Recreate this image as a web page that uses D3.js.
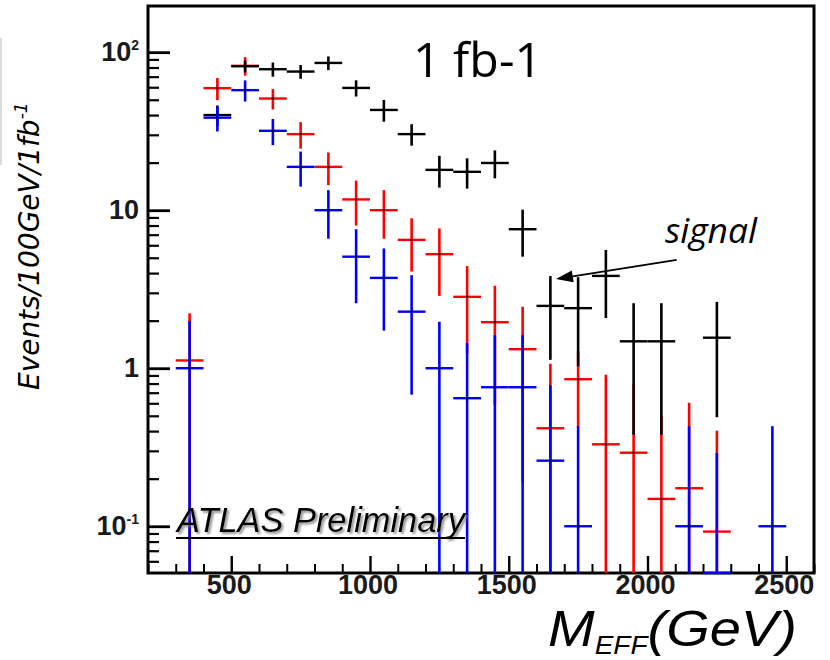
<!DOCTYPE html>
<html>
<head>
<meta charset="utf-8">
<script src="https://cdn.jsdelivr.net/npm/d3@7/dist/d3.min.js"></script>
<style>
  html, body { margin: 0; padding: 0; background: #fff; }
  svg { display: block; }
</style>
</head>
<body>
<script>
// M_EFF bins (GeV), 100 GeV wide
const binCenters = [350, 450, 550, 650, 750, 850, 950, 1050, 1150, 1250, 1350,
                    1450, 1550, 1650, 1750, 1850, 1950, 2050, 2150, 2250, 2350, 2450];
const binWidth = 100;

// Black: total (signal + background)
const blackValues = [null, 40, 81.5, 78, 75.4, 85.5, 59.4, 43.1, 30.3, 18.0, 17.5,
                     19.9, 7.58, 2.48, 2.40, 3.84, 1.48, 1.48, null, 1.56, null, null];
const blackErrors = [null, 6, 7, 8, 7.5, 8.5, 7, 6.8, 4.7, 4.1, 3.8,
                     4, 2.5, 1.35, 1.37, 1.76, 1.1, 1.1, null, 1.07, null, null];

// Red background
const redValues = [1.12, 59.2, 82, 50.9, 30.3, 18.8, 11.7, 10.0, 6.49, 5.27, 2.83,
                   1.955, 1.32, 0.417, 0.852, 0.330, 0.292, 0.149, 0.174, 0.0925, null, null];
const redErrors = [1.11, 9.5, 11, 7.5, 5.8, 4.4, 3.7, 3.4, 2.4, 2.4, 1.6,
                   1.37, 1.13, 0.65, 0.43, 0.58, 0.5, 0.35, 0.43, 0.31, null, null];

// Blue background
const blueValues = [1.0, 38.5, 57.5, 31.8, 18.8, 10.0, 5.08, 3.73, 2.28, 1.0, 0.646,
                    0.758, 0.758, 0.26, 0.1, null, null, null, 0.1, 0.04, null, 0.1];
const blueErrors = [0.99, 7, 8.8, 6, 4.7, 3.4, 2.5, 2.0, 1.6, 0.97, 0.8,
                    0.86, 0.86, 0.52, 0.33, null, null, null, 0.33, 0.25, null, 0.33];

// Axis ticks
const xMajorTicks = [500, 1000, 1500, 2000, 2500];
const yMajorTicks = [0.1, 1, 10, 100];
const yTickLabels = [["10", "-1"], ["1", ""], ["10", ""], ["10", "2"]];

const W = 830, H = 660;
const frame = { left: 148, right: 814, top: 6, bottom: 573 };

const svg = d3.select("body").append("svg")
  .attr("width", W).attr("height", H)
  .attr("viewBox", `0 0 ${W} ${H}`);

const defs = svg.append("defs");
const shadow = defs.append("filter").attr("id", "soft-shadow")
  .attr("x", "-5%").attr("y", "-20%").attr("width", "115%").attr("height", "150%");
shadow.append("feDropShadow").attr("dx", 2).attr("dy", 2)
  .attr("stdDeviation", 1.2).attr("flood-color", "#777").attr("flood-opacity", 0.8);

svg.append("rect").attr("width", W).attr("height", H).attr("fill", "#fff");

// faint rule at the far left edge
svg.append("line").attr("x1", 1).attr("x2", 1).attr("y1", 38).attr("y2", 165)
  .attr("stroke", "#dcdcdc").attr("stroke-width", 2);

const x = d3.scaleLinear().domain([200, 2600]).range([frame.left, frame.right]);
const y = d3.scaleLog().domain([0.0506, 196]).range([frame.bottom, frame.top]).clamp(true);

// Frame
svg.append("rect")
  .attr("x", frame.left).attr("y", frame.top)
  .attr("width", frame.right - frame.left).attr("height", frame.bottom - frame.top)
  .attr("fill", "none").attr("stroke", "#000").attr("stroke-width", 3);

// X axis ticks (inward)
const xMinor = d3.range(200, 2601, 100).filter(v => !xMajorTicks.includes(v));
const xAxisMinor = d3.axisBottom(x).tickValues(xMinor).tickSizeInner(-9).tickSizeOuter(0).tickFormat("");
const xAxisMajor = d3.axisBottom(x).tickValues(xMajorTicks).tickSizeInner(-17).tickSizeOuter(0).tickFormat("");
[xAxisMinor, xAxisMajor].forEach((ax, i) => {
  const g = svg.append("g").attr("transform", `translate(0,${frame.bottom})`).call(ax);
  g.select(".domain").remove();
  g.selectAll(".tick line").attr("stroke", "#000").attr("stroke-width", i ? 2.4 : 2);
});
svg.append("g").selectAll("text").data(xMajorTicks).join("text")
  .attr("x", d => x(d) - 2).attr("y", 594)
  .attr("text-anchor", "middle")
  .attr("font-family", "Liberation Sans, Arial, sans-serif")
  .attr("font-weight", "bold").attr("font-size", 27).attr("fill", "#1a1a1a")
  .text(d => d);

// Y axis ticks (inward)
const yMinor = [];
[0.01, 0.1, 1, 10, 100].forEach(dec => {
  for (let k = 2; k <= 9; k++) {
    const v = k * dec;
    if (v > y.domain()[0] && v < y.domain()[1]) yMinor.push(v);
  }
});
const yAxisMinor = d3.axisLeft(y).tickValues(yMinor).tickSizeInner(-11).tickSizeOuter(0).tickFormat("");
const yAxisMajor = d3.axisLeft(y).tickValues(yMajorTicks).tickSizeInner(-22).tickSizeOuter(0).tickFormat("");
[yAxisMinor, yAxisMajor].forEach((ax, i) => {
  const g = svg.append("g").attr("transform", `translate(${frame.left},0)`).call(ax);
  g.select(".domain").remove();
  g.selectAll(".tick line").attr("stroke", "#000").attr("stroke-width", i ? 2.8 : 2.2);
});
const yLab = svg.append("g").selectAll("text").data(yMajorTicks).join("text")
  .attr("x", 139).attr("y", d => y(d) + 9)
  .attr("text-anchor", "end")
  .attr("font-family", "Liberation Sans, Arial, sans-serif")
  .attr("font-weight", "bold").attr("font-size", 27).attr("fill", "#1a1a1a");
yLab.each(function(d, i) {
  const t = d3.select(this);
  t.append("tspan").text(yTickLabels[i][0]);
  if (yTickLabels[i][1]) {
    t.append("tspan").attr("font-size", 14).attr("dy", -11).text(yTickLabels[i][1]);
  }
});

// Error-bar series: red underneath, black, blue on top
const series = [
  { name: "red",   color: "#ff0000", values: redValues,   errors: redErrors },
  { name: "black", color: "#000000", values: blackValues, errors: blackErrors },
  { name: "blue",  color: "#0000ff", values: blueValues,  errors: blueErrors }
];
const floor = 1e-4;
series.forEach(s => {
  const pts = binCenters.map((c, i) => ({ c, v: s.values[i], e: s.errors[i] }))
    .filter(p => p.v !== null);
  const g = svg.append("g").attr("class", "series-" + s.name);
  g.selectAll("line.h").data(pts).join("line").attr("class", "h")
    .attr("x1", p => x(p.c - binWidth / 2)).attr("x2", p => x(p.c + binWidth / 2))
    .attr("y1", p => y(p.v)).attr("y2", p => y(p.v))
    .attr("stroke", s.color).attr("stroke-width", 2.4);
  g.selectAll("line.v").data(pts).join("line").attr("class", "v")
    .attr("x1", p => x(p.c)).attr("x2", p => x(p.c))
    .attr("y1", p => y(p.v + p.e)).attr("y2", p => y(Math.max(p.v - p.e, floor)))
    .attr("stroke", s.color).attr("stroke-width", 2.6);
  g.selectAll("rect.m").data(pts.filter(p => p.v >= y.domain()[0])).join("rect").attr("class", "m")
    .attr("x", p => x(p.c) - 1).attr("y", p => y(p.v) - 1)
    .attr("width", 2).attr("height", 2).attr("fill", "#000");
});

// Luminosity label
svg.append("text").attr("x", 413).attr("y", 77)
  .attr("font-family", "Open Sans, sans-serif").attr("font-size", 48)
  .attr("textLength", 129).attr("lengthAdjust", "spacingAndGlyphs")
  .text("1 fb-1");

// Signal annotation with arrow
const arrowTail = { m: 2105, v: 4.85 };
const arrowTip  = { m: 1670, v: 3.67 };
const tx = x(arrowTail.m), ty = y(arrowTail.v), hx = x(arrowTip.m), hy = y(arrowTip.v);
const ang = Math.atan2(ty - hy, tx - hx);
const headLen = 17, headHalf = 6;
const bx = hx + headLen * Math.cos(ang), by = hy + headLen * Math.sin(ang);
svg.append("line").attr("x1", tx).attr("y1", ty).attr("x2", bx).attr("y2", by)
  .attr("stroke", "#000").attr("stroke-width", 1.8);
svg.append("polygon")
  .attr("points", [
    [hx, hy],
    [bx - headHalf * Math.sin(ang), by + headHalf * Math.cos(ang)],
    [bx + headHalf * Math.sin(ang), by - headHalf * Math.cos(ang)]
  ].map(p => p.join(",")).join(" "))
  .attr("fill", "#000");
svg.append("text").attr("x", x(2063)).attr("y", y(6.17))
  .attr("font-family", "Open Sans, sans-serif").attr("font-style", "italic")
  .attr("font-size", 34).attr("textLength", 92).attr("lengthAdjust", "spacingAndGlyphs")
  .text("signal");

// Experiment label
svg.append("text").attr("x", 177).attr("y", 532)
  .attr("font-family", "Liberation Sans, Arial, sans-serif").attr("font-style", "italic")
  .attr("font-size", 35).attr("textLength", 288).attr("lengthAdjust", "spacingAndGlyphs")
  .attr("filter", "url(#soft-shadow)")
  .text("ATLAS Preliminary");
svg.append("line").attr("x1", 176).attr("x2", 465).attr("y1", 538).attr("y2", 538)
  .attr("stroke", "#000").attr("stroke-width", 2.2);

// X axis title (slightly widened glyphs)
const xt = svg.append("text").attr("transform", "translate(548,646) scale(1.12,1)")
  .attr("font-family", "Liberation Sans, Arial, sans-serif").attr("font-style", "italic")
  .attr("font-size", 50);
xt.append("tspan").text("M");
xt.append("tspan").attr("font-size", 25).attr("dy", 8).text("EFF");
xt.append("tspan").attr("dy", -8).text("(GeV)");

// Y axis title
const yt = svg.append("text")
  .attr("transform", "translate(39,390) rotate(-90)")
  .attr("font-family", "DejaVu Sans, sans-serif").attr("font-style", "italic")
  .attr("font-size", 28);
yt.append("tspan").text("Events/100GeV/1fb");
yt.append("tspan").attr("font-size", 17).attr("dy", -12).text("-1");
</script>
</body>
</html>
